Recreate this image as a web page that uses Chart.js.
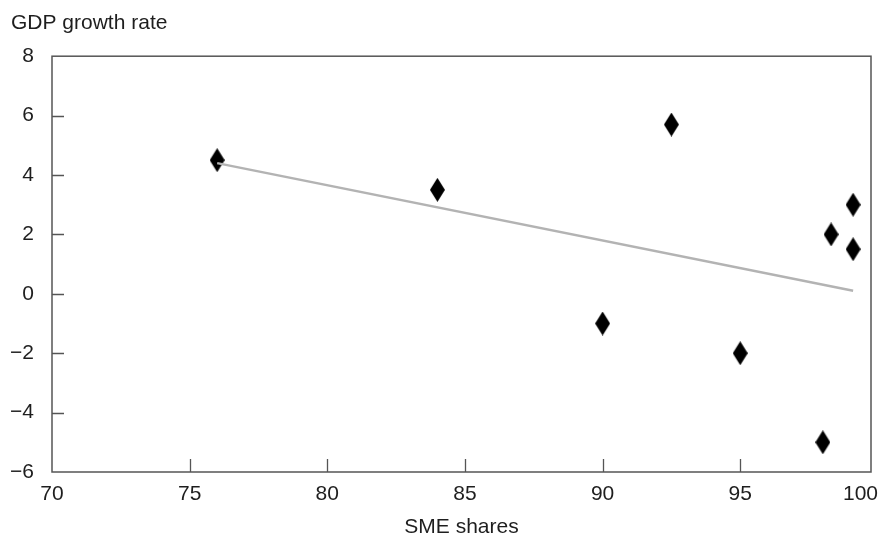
<!DOCTYPE html>
<html>
<head>
<meta charset="utf-8">
<script src="https://cdn.jsdelivr.net/npm/chart.js@4/dist/chart.umd.min.js"></script>
<style>
  html, body { margin: 0; padding: 0; background: #ffffff; }
  #wrap { width: 882px; height: 538px; }
</style>
</head>
<body>
<div id="wrap"><canvas id="c" width="882" height="538"></canvas></div>
<script>
// ---- data ----
const smeShares = [76, 84, 90, 92.5, 95, 98, 98.3, 99.1, 99.1];
const gdpGrowth = [4.5, 3.5, -1, 5.7, -2, -5, 2, 3, 1.5];
const trendX = [76, 99.1];
const trendY = [4.4, 0.1];
const xTickValues = [70, 75, 80, 85, 90, 95, 100];
const yTickValues = [-6, -4, -2, 0, 2, 4, 6, 8];
const xAxisMin = 70;
const xAxisMax = 99.75;   // frame ends slightly before 100 in the reference
const yAxisMin = -6;
const yAxisMax = 8;
const yTitle = 'GDP growth rate';
const xTitle = 'SME shares';

// ---- styles ----
const FONT = "'Liberation Sans', Arial, Helvetica, sans-serif";
const TEXT = '#1e1e1e';
const AXIS = '#555555';
const FS = 21;

// tall diamond marker
function makeDiamond(w, h) {
  const cv = document.createElement('canvas');
  cv.width = w; cv.height = h;
  const g = cv.getContext('2d');
  g.fillStyle = '#000000';
  g.beginPath();
  g.moveTo(w / 2, 0);
  g.lineTo(w, h / 2);
  g.lineTo(w / 2, h);
  g.lineTo(0, h / 2);
  g.closePath();
  g.fill();
  return cv;
}
const diamond = makeDiamond(15, 24);

const points = smeShares.map((x, i) => ({ x: x, y: gdpGrowth[i] }));
const trend = trendX.map((x, i) => ({ x: x, y: trendY[i] }));

const fmtNum = v => (v < 0 ? '\u2212' + Math.abs(v) : String(v));

const framePlugin = {
  id: 'frame',
  beforeDatasetsDraw(chart) {
    const { ctx, chartArea: a, scales } = chart;
    ctx.save();
    ctx.strokeStyle = AXIS;
    ctx.lineWidth = 1.5;
    ctx.strokeRect(a.left, a.top, a.right - a.left, a.bottom - a.top);
    ctx.lineWidth = 1.3;
    ctx.beginPath();
    scales.x.ticks.forEach(t => {
      if (t.value <= xAxisMin || t.value >= xAxisMax) return;
      const px = Math.round(scales.x.getPixelForValue(t.value)) + 0.5;
      ctx.moveTo(px, a.bottom);
      ctx.lineTo(px, a.bottom - 13);
    });
    scales.y.ticks.forEach(t => {
      if (t.value <= yAxisMin || t.value >= yAxisMax) return;
      const py = Math.round(scales.y.getPixelForValue(t.value)) + 0.5;
      ctx.moveTo(a.left, py);
      ctx.lineTo(a.left + 12, py);
    });
    ctx.stroke();
    ctx.restore();
  }
};

new Chart(document.getElementById('c'), {
  type: 'scatter',
  data: {
    datasets: [
      {
        type: 'line',
        data: trend,
        showLine: true,
        borderColor: '#b3b3b3',
        borderWidth: 2.5,
        pointRadius: 0,
        fill: false
      },
      {
        data: points,
        pointStyle: diamond,
        pointRadius: 10,
        backgroundColor: '#000',
        borderColor: '#000'
      }
    ]
  },
  options: {
    responsive: false,
    animation: false,
    events: [],
    layout: { padding: { left: 11, right: 7, top: 0, bottom: 0 } },
    plugins: {
      legend: { display: false },
      tooltip: { enabled: false },
      title: {
        display: true,
        text: yTitle,
        align: 'start',
        color: TEXT,
        font: { family: FONT, size: FS, weight: 'normal', lineHeight: 1.2 },
        padding: { top: 11, bottom: 20 }
      }
    },
    scales: {
      x: {
        type: 'linear',
        min: xAxisMin,
        max: xAxisMax,
        afterBuildTicks(scale) {
          scale.ticks = xTickValues.map(v => ({ value: Math.min(v, xAxisMax) }));
        },
        afterFit(scale) {
          scale.height = 66;
          scale.paddingLeft = 0;
          scale.paddingRight = 0;
        },
        grid: { display: false, drawTicks: false },
        border: { display: false },
        ticks: {
          padding: 10,
          maxRotation: 0,
          autoSkip: false,
          color: TEXT,
          font: { family: FONT, size: FS },
          callback: (v) => (v >= xAxisMax ? '100\u2002\u2002' : fmtNum(v))
        },
        title: {
          display: true,
          text: xTitle,
          color: TEXT,
          font: { family: FONT, size: FS, lineHeight: 1 },
          padding: { top: 0, bottom: 0 }
        }
      },
      y: {
        type: 'linear',
        min: yAxisMin,
        max: yAxisMax,
        afterBuildTicks(scale) {
          scale.ticks = yTickValues.map(v => ({ value: v }));
        },
        afterFit(scale) {
          scale.width = 41;
        },
        grid: { display: false, drawTicks: false },
        border: { display: false },
        ticks: {
          padding: 18,
          color: TEXT,
          font: { family: FONT, size: FS },
          callback: (v) => fmtNum(v)
        }
      }
    }
  },
  plugins: [framePlugin]
});
</script>
</body>
</html>
